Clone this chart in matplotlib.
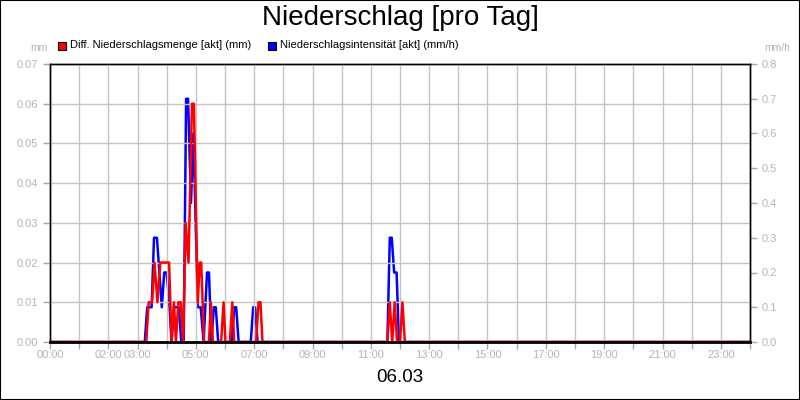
import matplotlib
matplotlib.use("Agg")
import matplotlib.pyplot as plt
from matplotlib.patches import Rectangle

plt.rcParams['font.family'] = ['Liberation Sans', 'DejaVu Sans']

# Diff. Niederschlagsmenge [akt] (mm) - left axis
menge_zeit = ["00:00", "03:18", "03:23", "03:30", "03:35", "03:41", "03:47", "04:05", "04:10",
              "04:15", "04:19", "04:24", "04:29", "04:34", "04:39", "04:45", "04:52", "04:56",
              "05:04", "05:08", "05:11", "05:17", "05:27", "05:31", "05:35", "05:52", "05:57",
              "06:01", "06:10", "06:15", "06:19", "07:04", "07:09", "07:13", "07:17",
              "11:34", "11:39", "11:44", "11:49", "11:54", "12:00", "12:05", "12:10", "23:59"]
menge_wert = [0, 0, 0.01, 0.01, 0.02, 0.01, 0.02, 0.02, 0,
              0.01, 0, 0.01, 0.01, 0, 0.03, 0.02, 0.06, 0.06,
              0.01, 0.02, 0.02, 0, 0, 0.01, 0, 0, 0.01,
              0, 0, 0.01, 0, 0, 0.01, 0.01, 0,
              0, 0.01, 0, 0.01, 0, 0, 0.01, 0, 0]

# Niederschlagsintensitaet [akt] (mm/h) - right axis
intens_zeit = ["00:00", "03:15", "03:20", "03:29", "03:34", "03:40", "03:50", "03:55", "04:00",
               "04:06", "04:10", "04:15", "04:25", "04:30", "04:35", "04:40", "04:44", "04:50",
               "04:55", "05:04", "05:10", "05:16", "05:23", "05:27", "05:32", "05:37", "05:41",
               "05:46", "06:14", "06:19", "06:23", "06:28", "06:53", "06:58", "07:02", "07:07",
               "11:34", "11:39", "11:43", "11:48", "11:53", "11:58", "23:59"]
intens_wert = [0, 0, 0.1, 0.1, 0.3, 0.3, 0.1, 0.2, 0.2,
               0.1, 0, 0.1, 0.1, 0, 0, 0.7, 0.7, 0.4,
               0.6, 0.1, 0.1, 0, 0.2, 0.2, 0, 0.1, 0.1,
               0, 0, 0.1, 0.1, 0, 0, 0.1, 0.1, 0,
               0, 0.3, 0.3, 0.2, 0.2, 0, 0]

x_ticks = [0, 2, 3, 5, 7, 9, 11, 13, 15, 17, 19, 21, 23]


def to_hours(t):
    h, m = t.split(":")
    return int(h) + int(m) / 60.0


grey = '#b4b4b4'
tick_grey = '#a8a8a8'

fig = plt.figure(figsize=(8, 4), dpi=100)
fig.patches.append(Rectangle((0, 0), 1, 1, transform=fig.transFigure, fill=False,
                             edgecolor='black', linewidth=1.5))

ax = fig.add_axes([50 / 800, 58 / 400, 700 / 800, 278 / 400])
ax2 = ax.twinx()

ax.set_xlim(0, 24)
ax.set_ylim(0, 0.07)
ax2.set_ylim(0, 0.8)

ax.set_xticks(range(0, 25), minor=True)
ax.set_xticks(x_ticks)
ax.set_xticklabels(["%02d:00" % h for h in x_ticks])
ax.set_yticks([i * 0.01 for i in range(8)])
ax.set_yticklabels(["%.2f" % (i * 0.01) for i in range(8)])
ax2.set_yticks([i * 0.1 for i in range(9)])
ax2.set_yticklabels(["%.1f" % (i * 0.1) for i in range(9)])

ax.grid(True, which='both', axis='x', color='#c4c4c4', linewidth=1)
ax.grid(True, which='major', axis='y', color='#c4c4c4', linewidth=1)
ax.set_axisbelow(True)

for a in (ax, ax2):
    a.tick_params(which='both', direction='out', length=5, width=1, color=tick_grey,
                  labelcolor=grey, labelsize=8)
    for s in a.spines.values():
        s.set_color('black')
        s.set_linewidth(1)
ax.tick_params(axis='x', which='both', pad=1)
ax.spines['bottom'].set_linewidth(2)

ax2.plot([to_hours(t) for t in intens_zeit], intens_wert, color='#0000ff', linewidth=1.8)
ax2.set_zorder(1)
ax.set_zorder(2)
ax.patch.set_visible(False)
ax.plot([to_hours(t) for t in menge_zeit], menge_wert, color='#ff0000', linewidth=1.8)

fig.text(0.5, 0.955, "Niederschlag [pro Tag]", ha='center', va='center', fontsize=20)
fig.text(0.5, 0.055, "06.03", ha='center', va='center', fontsize=13.5)
fig.text(48 / 800, 1 - 48 / 400, "mm", ha='right', va='center', fontsize=7.5, color=grey)
fig.text(790 / 800, 1 - 48 / 400, "mm/h", ha='right', va='center', fontsize=7.5, color=grey)

# legend
for xpos, col, txt in [(58, '#ff0000', "Diff. Niederschlagsmenge [akt] (mm)"),
                       (268, '#0000ff', "Niederschlagsintensität [akt] (mm/h)")]:
    fig.patches.append(Rectangle((xpos / 800, 1 - 50 / 400), 8 / 800, 8 / 400,
                                 transform=fig.transFigure, facecolor=col,
                                 edgecolor='black', linewidth=0.8))
    fig.text((xpos + 12) / 800, 1 - 45.5 / 400, txt, ha='left', va='center', fontsize=8)

fig.savefig("out.png", dpi=100)
